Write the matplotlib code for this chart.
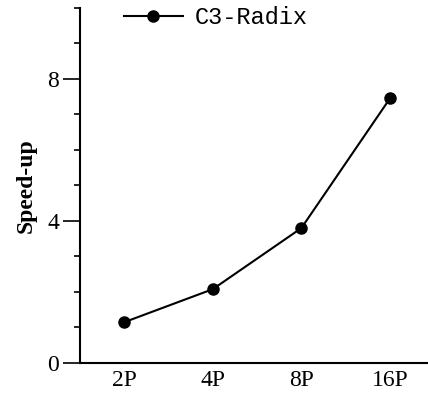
import matplotlib
matplotlib.use("Agg")
import matplotlib.pyplot as plt
from matplotlib.ticker import MultipleLocator

categories = ["2P", "4P", "8P", "16P"]
speedup = [1.15, 2.08, 3.8, 7.45]
series_name = "C3-Radix"

plt.rcParams['font.family'] = ['Liberation Serif', 'DejaVu Serif']

fig = plt.figure(figsize=(4.28, 3.95), dpi=100)
ax = fig.add_axes([0.187, 0.081, 0.813, 0.899])

x = list(range(len(categories)))
ax.plot(x, speedup, color="black", lw=1.5, marker="o", markersize=8,
        label=series_name)

ax.set_xlim(-0.5, 3.43)
ax.set_ylim(0, 10)
ax.set_xticks(x)
ax.set_xticklabels(categories, fontsize=17)
ax.tick_params(axis="x", length=0, pad=5)
ax.yaxis.set_major_locator(MultipleLocator(4))
ax.yaxis.set_minor_locator(MultipleLocator(1))
ax.tick_params(axis="y", which="major", length=12, width=1.2, labelsize=17, direction="out", pad=3)
ax.tick_params(axis="y", which="minor", length=4, width=1.2, direction="out")
ax.spines["top"].set_visible(False)
ax.spines["right"].set_visible(False)
ax.spines["left"].set_linewidth(1.5)
ax.spines["bottom"].set_linewidth(1.5)
ax.set_ylabel("Speed-up", fontsize=17, fontweight="bold", labelpad=8)

ax.legend(loc="upper left", bbox_to_anchor=(0.098, 1.031), frameon=False,
          handlelength=2.5, handletextpad=0.5, borderaxespad=0,
          prop={"family": "Liberation Mono", "size": 17})

fig.savefig("out.png", dpi=100)
